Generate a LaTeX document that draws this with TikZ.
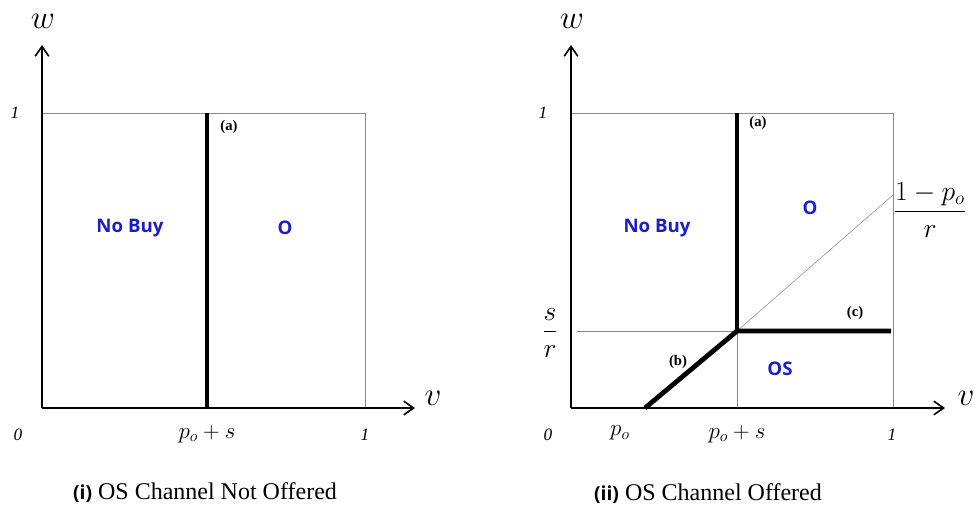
\documentclass[tikz,border=0pt]{standalone}
\usepackage{amsmath}
\usepackage{fontspec}
\setmainfont{Liberation Serif}
\newfontfamily\regionfont{Open Sans}
\usepackage{tikz}
\usetikzlibrary{arrows.meta,positioning}
\definecolor{regionBlue}{HTML}{1C1CC8}
\definecolor{guideGray}{HTML}{8A8A8A}
\tikzset{
  axisline/.style={
    line width=1.2pt,
    draw=black,
    -{Straight Barb[length=2.6mm,width=3.6mm,line width=1.2pt]}
  },
  boxline/.style={
    line width=0.6pt,
    draw=guideGray
  },
  guide/.style={
    line width=0.4pt,
    draw=guideGray
  },
  border/.style={
    line width=3.6pt,
    draw=black
  },
  region/.style={
    font=\regionfont\bfseries\fontsize{14}{16}\selectfont,
    text=regionBlue
  },
  tick/.style={
    font=\itshape\fontsize{13}{15}\selectfont
  },
  axisname/.style={
    font=\fontsize{30}{32}\selectfont
  },
  mathlabel/.style={
    font=\fontsize{18}{20}\selectfont
  },
  fraclabel/.style={
    font=\fontsize{21}{23}\selectfont
  },
  tag/.style={
    font=\bfseries\fontsize{11}{13}\selectfont
  },
  caption/.style={
    font=\fontsize{18}{20}\selectfont
  }
}

\begin{document}
\begin{tikzpicture}[x=0.75pt,y=-0.75pt]
  \useasboundingbox (0,0) rectangle (978,511);
  % panel (i)
  \coordinate (o1) at (42,408);
  \coordinate (ytip1) at (42,45);
  \coordinate (xtip1) at (415,408);
  \coordinate (tl1) at (42,113);
  \coordinate (tr1) at (365,113);
  \coordinate (br1) at (365,408);
  \coordinate (atop1) at (207,113);
  \coordinate (abot1) at (207,408);
  \draw[boxline] (tl1) -- (tr1) -- (br1);
  \draw[axisline] (o1) -- (ytip1);
  \draw[axisline] (o1) -- (xtip1);
  \draw[border,line cap=butt] (atop1) -- (abot1);
  \node[axisname] (w1) at (43,21) {$w$};
  \node[axisname] (v1) at (433,398) {$v$};
  \node[tick] (one1y) at (15,113) {1};
  \node[tick] (zero1) at (18,435) {0};
  \node[mathlabel] (ps1) at (207,434) {$p_o+s$};
  \node[tick] (one1x) at (365,435) {1};
  \node[tag] (a1) at (229,127) {(a)};
  \node[region] (nobuy1) at (130,228) {No Buy};
  \node[region] (o1lab) at (285,228) {O};
  \node[caption] (cap1) at (205,493) {{\regionfont\bfseries\fontsize{14.5}{16}\selectfont (i)} OS Channel Not Offered};

  % panel (ii)
  \coordinate (o2) at (571,408);
  \coordinate (ytip2) at (571,45);
  \coordinate (xtip2) at (945,408);
  \coordinate (tl2) at (571,113);
  \coordinate (tr2) at (893,113);
  \coordinate (br2) at (893,408);
  \coordinate (atop2) at (737,113);
  \coordinate (kink) at (737,331);
  \coordinate (kinkbot) at (737,408);
  \coordinate (sr) at (577,331);
  \coordinate (cend) at (891,331);
  \coordinate (bend) at (645,408);
  \coordinate (diag) at (893,195);
  \draw[boxline] (tl2) -- (tr2) -- (br2);
  \draw[guide] (sr) -- (kink);
  \draw[guide] (kink) -- (kinkbot);
  \draw[guide] (kink) -- (diag);
  \draw[axisline] (o2) -- (ytip2);
  \draw[axisline] (o2) -- (xtip2);
  \draw[border,line cap=butt] (atop2) -- (kink);
  \draw[border] (bend) -- (kink) -- (cend);
  \node[axisname] (w2) at (572,21) {$w$};
  \node[axisname,anchor=west] (v2) at (953,398) {$v$};
  \node[tick] (one2y) at (543,113) {1};
  \node[tick] (zero2) at (548,435) {0};
  \node[mathlabel] (po2) at (620,433) {$p_o$};
  \node[mathlabel] (ps2) at (737,434) {$p_o+s$};
  \node[tick] (one2x) at (892,435) {1};
  \node[fraclabel] (srlab) at (550,333) {$\dfrac{s}{r}$};
  \node[fraclabel] (polab) at (930,210) {$\dfrac{1-p_o}{r}$};
  \node[tag] (a2) at (758,123) {(a)};
  \node[tag] (c2) at (855,313) {(c)};
  \node[tag] (b2) at (678,362) {(b)};
  \node[region] (nobuy2) at (657,228) {No Buy};
  \node[region] (o2lab) at (810,208) {O};
  \node[region] (os2) at (780,369) {OS};
  \node[caption] (cap2) at (708,494) {{\regionfont\bfseries\fontsize{14.5}{16}\selectfont (ii)} OS Channel Offered};
\end{tikzpicture}
\end{document}
